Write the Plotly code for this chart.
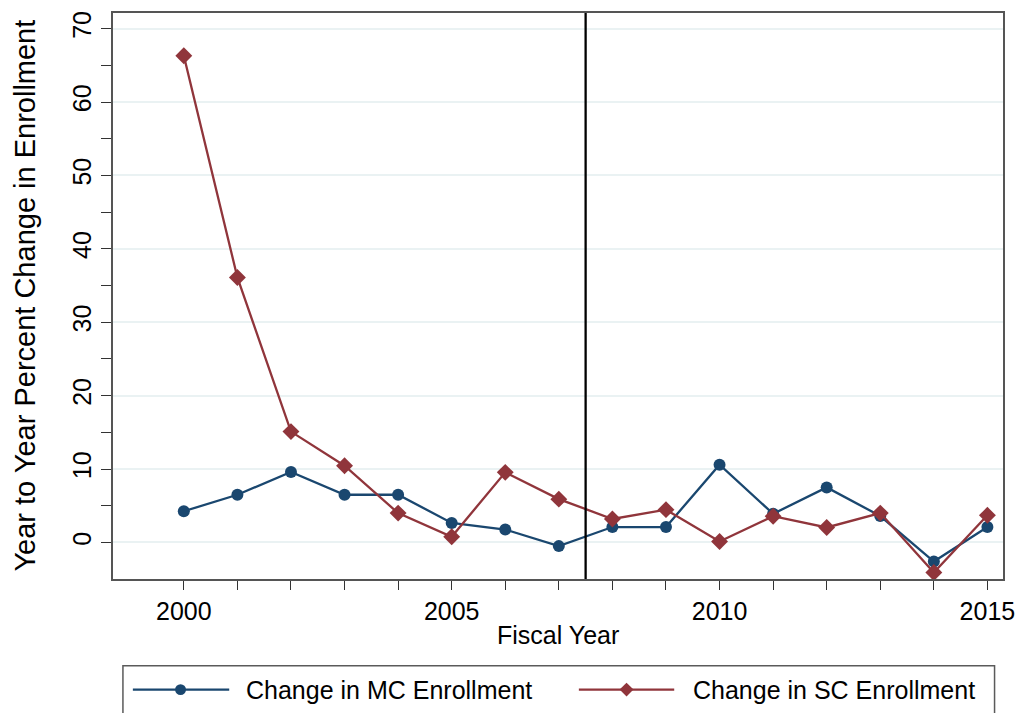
import plotly.graph_objects as go

# Fiscal years and year-to-year percent change in enrollment
years = list(range(2000, 2016))
mc_change = [4.25, 6.5, 9.6, 6.5, 6.5, 2.66, 1.76, -0.5, 2.1, 2.1, 10.6, 3.9, 7.5, 3.6, -2.6, 2.1]
sc_change = [66.3, 36.1, 15.1, 10.45, 4.0, 0.77, 9.55, 5.9, 3.2, 4.47, 0.13, 3.57, 2.04, 4.0, -4.1, 3.7]

mc_label = "Change in MC Enrollment"
sc_label = "Change in SC Enrollment"
x_title = "Fiscal Year"
y_title = "Year to Year Percent Change in Enrollment"
policy_year = 2007.5

NAVY = "#1a476f"
MAROON = "#90353b"
FONT = "Liberation Sans, Arial, sans-serif"

W, H = 1026, 713
ML, MR, MT, MB = 113, 17, 11, 134
PW, PH = W - ML - MR, H - MT - MB


def px_x(px):
    return (px - ML) / PW


def px_y(py):
    return (H - MB - py) / PH


fig = go.Figure()
fig.add_trace(go.Scatter(
    x=years, y=mc_change, mode="lines+markers", name=mc_label,
    line=dict(color=NAVY, width=2.3),
    marker=dict(symbol="circle", size=12, color=NAVY),
    showlegend=False,
))
fig.add_trace(go.Scatter(
    x=years, y=sc_change, mode="lines+markers", name=sc_label,
    line=dict(color=MAROON, width=2.3),
    marker=dict(symbol="diamond", size=13, color=MAROON),
    showlegend=False,
))

# vertical reference line
fig.add_shape(type="line", xref="x", yref="paper", x0=policy_year, x1=policy_year,
              y0=0, y1=1, line=dict(color="black", width=2.3))

# legend box drawn below the plot
shapes = [
    dict(type="rect", xref="paper", yref="paper",
         x0=px_x(123), x1=px_x(1000.5), y0=px_y(666), y1=px_y(730),
         line=dict(color="#5a5a5a", width=1.5), fillcolor="white"),
]
ly = 690
entries = [
    (133, 230, 181, NAVY, "circle", mc_label, 245),
    (582, 678, 630, MAROON, "diamond", sc_label, 695),
]
for x0, x1, xm, col, sym, label, xt in entries:
    shapes.append(dict(type="line", xref="paper", yref="paper",
                       x0=px_x(x0), x1=px_x(x1), y0=px_y(ly), y1=px_y(ly),
                       line=dict(color=col, width=2.3)))
    if sym == "circle":
        r = 5.5
        shapes.append(dict(type="circle", xref="paper", yref="paper",
                           x0=px_x(xm - r), x1=px_x(xm + r), y0=px_y(ly - r), y1=px_y(ly + r),
                           line=dict(color=col, width=0), fillcolor=col))
    else:
        r = 7
        path = (f"M {px_x(xm)} {px_y(ly - r)} L {px_x(xm + r)} {px_y(ly)} "
                f"L {px_x(xm)} {px_y(ly + r)} L {px_x(xm - r)} {px_y(ly)} Z")
        shapes.append(dict(type="path", xref="paper", yref="paper", path=path,
                           line=dict(color=col, width=0), fillcolor=col))
    fig.add_annotation(x=px_x(xt), y=px_y(ly), xref="paper", yref="paper",
                       text=label, showarrow=False, xanchor="left", yanchor="middle",
                       font=dict(family=FONT, size=25, color="black"))
for s in shapes:
    fig.add_shape(**s)

# axis titles
fig.add_annotation(x=0.5, y=px_y(635), xref="paper", yref="paper", text=x_title,
                   showarrow=False, xanchor="center", yanchor="middle",
                   font=dict(family=FONT, size=25, color="black"))
fig.add_annotation(x=px_x(24), y=px_y(295), xref="paper", yref="paper", text=y_title,
                   showarrow=False, textangle=-90, xanchor="center", yanchor="middle",
                   font=dict(family=FONT, size=29, color="black"))

fig.update_xaxes(
    range=[1998.678, 2015.291],
    tickmode="array", tickvals=[2000, 2005, 2010, 2015],
    ticks="outside", ticklen=9, tickwidth=1.2, tickcolor="#333",
    minor=dict(tickmode="array", tickvals=years, ticks="outside", ticklen=9,
               tickwidth=1.2, tickcolor="#333", showgrid=False),
    showgrid=False, zeroline=False,
    showline=True, linecolor="#555", linewidth=1.5, mirror=True,
    tickfont=dict(family=FONT, size=25, color="black"),
)
fig.update_yaxes(
    range=[-4.98, 72.13],
    tickmode="array", tickvals=[0, 10, 20, 30, 40, 50, 60, 70],
    tickangle=-90,
    ticks="outside", ticklen=10, tickwidth=1.2, tickcolor="#333",
    minor=dict(tickmode="array", tickvals=[5, 15, 25, 35, 45, 55, 65],
               ticks="outside", ticklen=10, tickwidth=1.2, tickcolor="#333", showgrid=False),
    showgrid=True, gridcolor="#eaf2f3", gridwidth=2,
    zeroline=False,
    showline=True, linecolor="#555", linewidth=1.5, mirror=True,
    tickfont=dict(family=FONT, size=25, color="black"),
)

fig.update_layout(
    width=W, height=H,
    margin=dict(l=ML, r=MR, t=MT, b=MB),
    paper_bgcolor="white", plot_bgcolor="white",
    font=dict(family=FONT),
)

fig.write_html("out.html")
